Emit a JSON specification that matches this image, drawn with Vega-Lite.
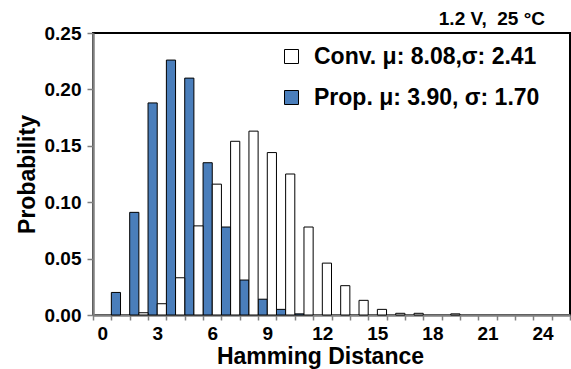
{
  "$schema": "https://vega.github.io/schema/vega-lite/v6.json",
  "width": 477,
  "height": 282,
  "autosize": {"type": "none"},
  "padding": {"left": 93, "top": 33, "right": 1, "bottom": 54},
  "background": "white",
  "config": {
    "font": "Liberation Sans",
    "view": {"stroke": "black", "strokeWidth": 2}
  },
  "title": {
    "text": "1.2 V,\u00a0\u00a025 °C",
    "anchor": "end",
    "frame": "group",
    "fontSize": 19,
    "fontWeight": "bold",
    "color": "black",
    "offset": -5,
    "dx": -25
  },
  "data": {
    "values": [
      {"d": 1, "series": "Prop.", "p": 0.020},
      {"d": 2, "series": "Prop.", "p": 0.091},
      {"d": 3, "series": "Prop.", "p": 0.188},
      {"d": 4, "series": "Prop.", "p": 0.226},
      {"d": 5, "series": "Prop.", "p": 0.210},
      {"d": 6, "series": "Prop.", "p": 0.135},
      {"d": 7, "series": "Prop.", "p": 0.078},
      {"d": 8, "series": "Prop.", "p": 0.031},
      {"d": 9, "series": "Prop.", "p": 0.014},
      {"d": 10, "series": "Prop.", "p": 0.005},
      {"d": 11, "series": "Prop.", "p": 0.001},
      {"d": 2, "series": "Conv.", "p": 0.002},
      {"d": 3, "series": "Conv.", "p": 0.010},
      {"d": 4, "series": "Conv.", "p": 0.033},
      {"d": 5, "series": "Conv.", "p": 0.079},
      {"d": 6, "series": "Conv.", "p": 0.116},
      {"d": 7, "series": "Conv.", "p": 0.154},
      {"d": 8, "series": "Conv.", "p": 0.163},
      {"d": 9, "series": "Conv.", "p": 0.144},
      {"d": 10, "series": "Conv.", "p": 0.125},
      {"d": 11, "series": "Conv.", "p": 0.078},
      {"d": 12, "series": "Conv.", "p": 0.046},
      {"d": 13, "series": "Conv.", "p": 0.026},
      {"d": 14, "series": "Conv.", "p": 0.013},
      {"d": 15, "series": "Conv.", "p": 0.005},
      {"d": 16, "series": "Conv.", "p": 0.0015},
      {"d": 17, "series": "Conv.", "p": 0.0015},
      {"d": 19, "series": "Conv.", "p": 0.001}
    ]
  },
  "mark": {"type": "bar", "stroke": "black", "strokeWidth": 1},
  "encoding": {
    "x": {
      "field": "d",
      "type": "ordinal",
      "scale": {
        "type": "band",
        "domain": [0,1,2,3,4,5,6,7,8,9,10,11,12,13,14,15,16,17,18,19,20,21,22,23,24,25],
        "paddingInner": 0,
        "paddingOuter": 0
      },
      "axis": {
        "title": "Hamming Distance",
        "titleFontSize": 23,
        "titleFontWeight": "bold",
        "titleColor": "black",
        "titleX": 227,
        "titlePadding": 2,
        "labelExpr": "datum.value % 3 === 0 ? datum.label : ''",
        "labelAngle": 0,
        "labelFontSize": 19,
        "labelFontWeight": "bold",
        "labelColor": "black",
        "labelPadding": 4,
        "tickBand": "extent",
        "tickSize": 5,
        "tickWidth": 1.5,
        "tickColor": "#808080",
        "domainColor": "#808080",
        "domainWidth": 2.5
      }
    },
    "xOffset": {
      "field": "series",
      "scale": {"domain": ["Prop.", "Conv."], "paddingInner": 0, "paddingOuter": 0}
    },
    "y": {
      "field": "p",
      "type": "quantitative",
      "scale": {"domain": [0, 0.25], "nice": false},
      "axis": {
        "title": "Probability",
        "titleFontSize": 23,
        "titleFontWeight": "bold",
        "titleColor": "black",
        "titlePadding": 5,
        "values": [0, 0.05, 0.1, 0.15, 0.2, 0.25],
        "format": ".2f",
        "labelFontSize": 19,
        "labelFontWeight": "bold",
        "labelColor": "black",
        "labelPadding": 6,
        "tickSize": 6,
        "tickWidth": 1.5,
        "tickColor": "#808080",
        "domainColor": "#808080",
        "domainWidth": 2.5,
        "grid": false
      }
    },
    "color": {
      "field": "series",
      "type": "nominal",
      "scale": {"domain": ["Conv.", "Prop."], "range": ["white", "#4A7EBB"]},
      "legend": {
        "title": null,
        "orient": "none",
        "legendX": 187,
        "legendY": 12,
        "symbolType": "square",
        "symbolSize": 196,
        "symbolStrokeColor": "black",
        "symbolStrokeWidth": 1,
        "symbolOpacity": 1,
        "labelFontSize": 23,
        "labelFontWeight": "bold",
        "labelColor": "black",
        "labelOffset": 11,
        "rowPadding": 17,
        "labelLimit": 400,
        "labelExpr": "datum.label === 'Conv.' ? 'Conv.  μ: 8.08,σ: 2.41' : 'Prop.  μ: 3.90, σ: 1.70'"
      }
    }
  }
}
